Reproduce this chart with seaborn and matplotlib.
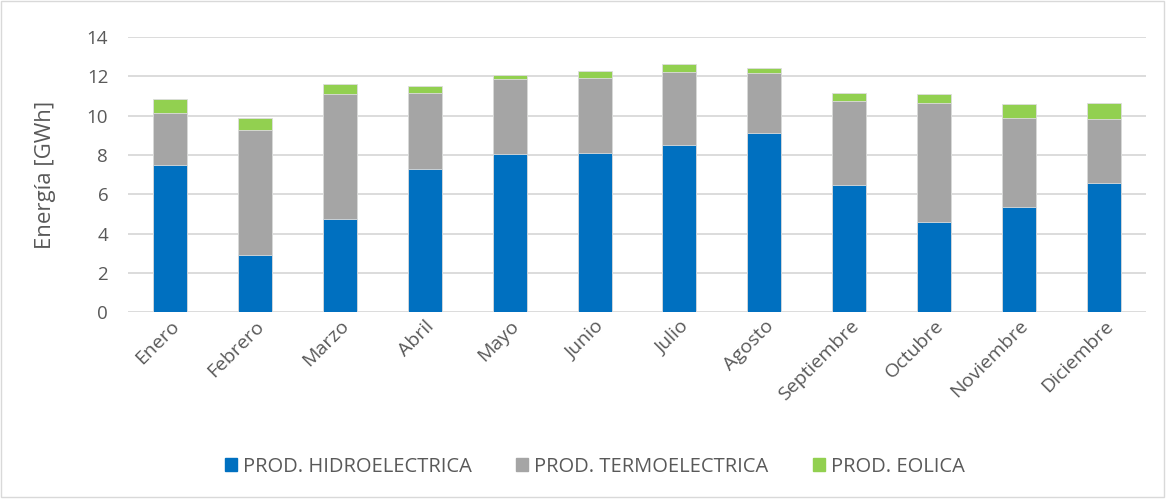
import numpy as np
import pandas as pd
import matplotlib.pyplot as plt
import seaborn as sns
from matplotlib.patches import Patch, Rectangle

meses = ['Enero', 'Febrero', 'Marzo', 'Abril', 'Mayo', 'Junio', 'Julio',
         'Agosto', 'Septiembre', 'Octubre', 'Noviembre', 'Diciembre']
hidro = [7.47, 2.89, 4.75, 7.27, 8.03, 8.08, 8.52, 9.11, 6.45, 4.58, 5.33, 6.57]
termo = [2.65, 6.36, 6.37, 3.86, 3.83, 3.84, 3.70, 3.06, 4.30, 6.06, 4.57, 3.28]
eolica = [0.73, 0.61, 0.47, 0.39, 0.21, 0.35, 0.39, 0.24, 0.42, 0.48, 0.68, 0.81]

df = pd.DataFrame({'Mes': meses, 'Hidro': hidro, 'Termo': termo, 'Eolica': eolica})
df['HT'] = df['Hidro'] + df['Termo']
df['Total'] = df['HT'] + df['Eolica']

c_hidro, c_termo, c_eol = '#0070c0', '#a5a5a5', '#92d050'
txt = '#595959'

sns.set_style('white')
plt.rcParams['font.family'] = ['Open Sans', 'DejaVu Sans']

fig = plt.figure(figsize=(11.71, 5.01), dpi=100)
ax = fig.add_axes([0.109, 0.377, 0.870, 0.549])

# stacked by overlaying cumulative totals
for col, c in [('Total', c_eol), ('HT', c_termo), ('Hidro', c_hidro)]:
    sns.barplot(data=df, x='Mes', y=col, color=c, width=0.4, ax=ax,
                saturation=1, edgecolor='#dddddd', linewidth=0.6, zorder=3)

ax.set_ylim(0, 14)
ax.set_yticks(np.arange(0, 15, 2))
ax.set_xlim(-0.5, 11.5)
ax.yaxis.grid(True, color='#d9d9d9', linewidth=1.3, zorder=0)
ax.set_axisbelow(True)
sns.despine(ax=ax, left=True, bottom=True)
ax.tick_params(axis='both', length=0, labelcolor=txt)
ax.tick_params(axis='y', pad=14, labelsize=13.5)
ax.tick_params(axis='x', labelsize=14)
plt.setp(ax.get_xticklabels(), rotation=45, ha='right', rotation_mode='anchor')
ax.set_xlabel('')
ax.set_ylabel('Energía [GWh]', fontsize=16, color=txt, labelpad=22)

handles = [Patch(color=c_hidro, label='PROD. HIDROELECTRICA'),
           Patch(color=c_termo, label='PROD. TERMOELECTRICA'),
           Patch(color=c_eol, label='PROD. EOLICA')]
leg = fig.legend(handles=handles, loc='center', bbox_to_anchor=(0.508, 0.068),
                 ncol=3, frameon=False, fontsize=14.5, handlelength=0.6,
                 handleheight=0.6, handletextpad=0.3, columnspacing=2.2)
for t in leg.get_texts():
    t.set_color(txt)

fig.patches.append(Rectangle((0.001, 0.008), 0.993, 0.99, transform=fig.transFigure,
                             fill=False, edgecolor='#d9d9d9', linewidth=1))

fig.savefig('out.png', dpi=100)
